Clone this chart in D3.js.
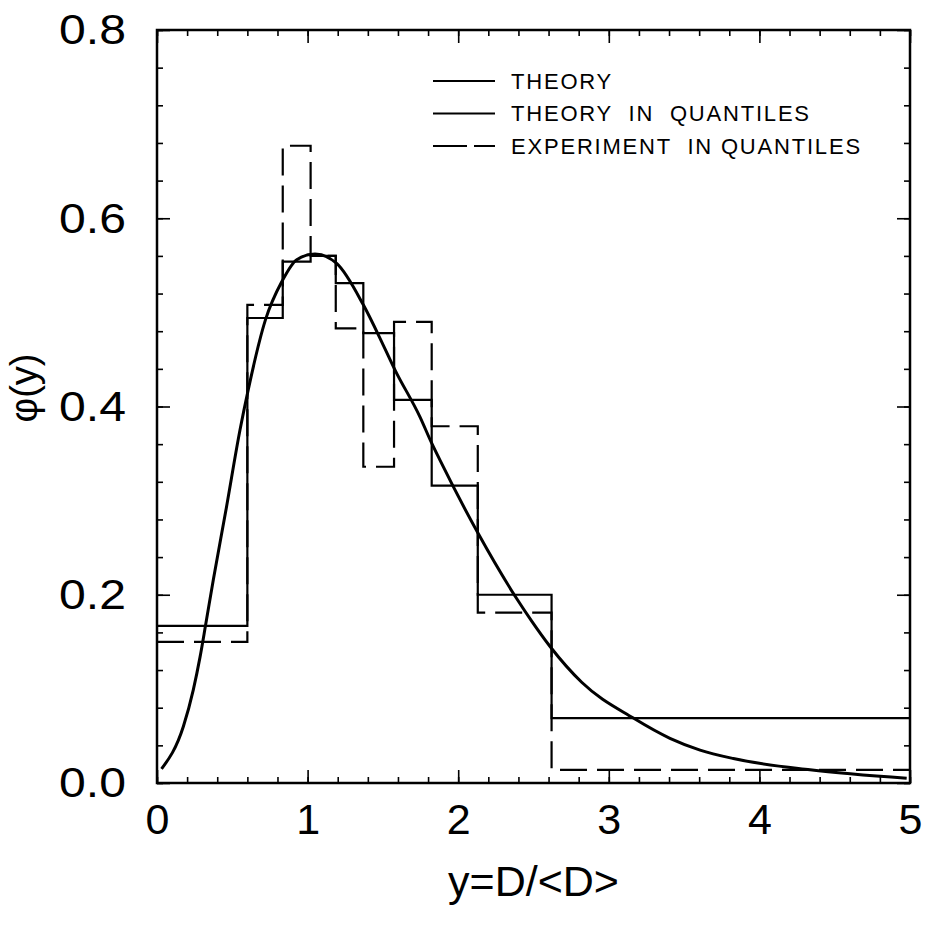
<!DOCTYPE html>
<html>
<head>
<meta charset="utf-8">
<script src="https://cdn.jsdelivr.net/npm/d3@7"></script>
<style>
  html, body { margin: 0; padding: 0; background: #fff; }
  svg { display: block; }
  text { font-family: "Liberation Sans", Arial, sans-serif; fill: #000; }
</style>
</head>
<body>
<div id="chart"></div>
<script>
'use strict';
// quantile bin edges along y=D/<D>
const binEdges = [0, 0.60, 0.835, 1.02, 1.187, 1.37, 1.574, 1.824, 2.13, 2.62, 5.0];
// bin heights
const theoryQuantiles = [0.167, 0.494, 0.554, 0.560, 0.531, 0.478, 0.407, 0.316, 0.200, 0.069];
const experimentQuantiles = [0.150, 0.508, 0.677, 0.560, 0.483, 0.336, 0.490, 0.379, 0.181, 0.014];

// theory curve, sampled by eye
const curveX = [0.03, 0.175, 0.241, 0.286, 0.323, 0.374, 0.46, 0.551, 0.606, 0.72, 0.83, 0.928, 1.049, 1.193, 1.37, 1.503, 1.58, 1.746, 1.824, 1.879, 2.133, 2.388, 2.488, 2.61, 2.82, 3.163, 3.406, 3.606, 3.827, 4.336, 4.978];
const curveY = [0.015, 0.060, 0.099, 0.134, 0.168, 0.216, 0.292, 0.375, 0.418, 0.492, 0.533, 0.556, 0.562, 0.552, 0.508, 0.465, 0.439, 0.389, 0.361, 0.343, 0.265, 0.196, 0.172, 0.145, 0.107, 0.069, 0.0475, 0.035, 0.026, 0.014, 0.005];

const xTickValues = [0, 1, 2, 3, 4, 5];
const yTickValues = [0, 0.2, 0.4, 0.6, 0.8];
const legendLabels = ["THEORY", "THEORY  IN  QUANTILES", "EXPERIMENT  IN QUANTILES"];

const width = 929, height = 925;
const margin = {top: 30, right: 19, bottom: 142, left: 157};
const pw = width - margin.left - margin.right;
const ph = height - margin.top - margin.bottom;

const svg = d3.select("#chart").append("svg")
    .attr("width", width)
    .attr("height", height);
const g = svg.append("g")
    .attr("transform", `translate(${margin.left},${margin.top})`);

const x = d3.scaleLinear().domain([0, 5]).range([0, pw]);
const y = d3.scaleLinear().domain([0, 0.8]).range([ph, 0]);

// ticks: inward, minor every 0.2 / 0.04, major on labelled values
const xMinor = d3.range(0, 5.001, 0.2).map(v => +v.toFixed(2));
const yMinor = d3.range(0, 0.8001, 0.04).map(v => +v.toFixed(2));

function ticks(axis, scale, vals, size, tf, labels, pad) {
    const a = g.append("g")
        .attr("transform", tf)
        .call(axis(scale).tickValues(vals).tickSize(-size).tickPadding(pad || 0)
            .tickFormat(labels ? (d => d3.format(labels)(d)) : ""));
    a.select(".domain").remove();
    a.selectAll("line").attr("stroke", "#000").attr("stroke-width", 1.6);
    return a;
}
ticks(d3.axisBottom, x, xMinor, 6, `translate(0,${ph})`);
ticks(d3.axisTop, x, xMinor, 6, "translate(0,0)");
ticks(d3.axisLeft, y, yMinor, 6, "translate(0,0)");
ticks(d3.axisRight, y, yMinor, 6, `translate(${pw},0)`);

const xAx = ticks(d3.axisBottom, x, xTickValues, 13, `translate(0,${ph})`, "d", 20);
ticks(d3.axisTop, x, xTickValues, 13, "translate(0,0)");
const yAx = ticks(d3.axisLeft, y, yTickValues, 13, "translate(0,0)", ".1f", 32);
ticks(d3.axisRight, y, yTickValues, 13, `translate(${pw},0)`);
xAx.selectAll("text").style("font-size", "43px").attr("font-family", null);
// the y labels are set a little wide in the original
yAx.selectAll("text")
    .style("font-size", "43px")
    .attr("font-family", null)
    .attr("x", 0)
    .attr("transform", "translate(-31,0) scale(1.12,1)");

// frame
g.append("rect")
    .attr("x", 0).attr("y", 0)
    .attr("width", pw).attr("height", ph)
    .attr("fill", "none")
    .attr("stroke", "#000")
    .attr("stroke-width", 2.5);

// step outlines of the quantile histograms
function stepPoints(h) {
    const pts = h.map((v, i) => [binEdges[i], v]);
    pts.push([binEdges[binEdges.length - 1], h[h.length - 1]]);
    return pts;
}
const step = d3.line()
    .x(d => x(d[0]))
    .y(d => y(d[1]))
    .curve(d3.curveStepAfter);

g.append("path")
    .attr("d", step(stepPoints(theoryQuantiles)))
    .attr("fill", "none")
    .attr("stroke", "#000")
    .attr("stroke-width", 2.2);

g.append("path")
    .attr("d", step(stepPoints(experimentQuantiles)))
    .attr("fill", "none")
    .attr("stroke", "#000")
    .attr("stroke-width", 2.2)
    .attr("stroke-dasharray", "27,10");

// theory curve
const curvePts = curveX.map((v, i) => [v, curveY[i]]);
g.append("path")
    .attr("d", d3.line()
        .x(d => x(d[0]))
        .y(d => y(d[1]))
        .curve(d3.curveMonotoneX)(curvePts))
    .attr("fill", "none")
    .attr("stroke", "#000")
    .attr("stroke-width", 3);

// legend
const legend = svg.append("g").attr("transform", "translate(433,81)");
const dashes = [null, null, "34,7"];
legendLabels.forEach((lab, i) => {
    const row = legend.append("g").attr("transform", `translate(0,${i * 32.5})`);
    row.append("line")
        .attr("x1", 0).attr("x2", 62)
        .attr("y1", 0).attr("y2", 0)
        .attr("stroke", "#000")
        .attr("stroke-width", 2)
        .attr("stroke-dasharray", dashes[i]);
    row.append("text")
        .attr("x", 78)
        .attr("y", 0)
        .attr("dy", "0.36em")
        .style("font-size", "22px")
        .style("letter-spacing", "1.8px")
        .style("white-space", "pre")
        .text(lab);
});

// axis titles
svg.append("text")
    .attr("x", margin.left + x(2.5))
    .attr("y", 896)
    .attr("text-anchor", "middle")
    .style("font-size", "43px")
    .text("y=D/<D>");

svg.append("text")
    .attr("transform", `translate(37,388) rotate(-90)`)
    .attr("text-anchor", "middle")
    .style("font-size", "38px")
    .text("φ(y)");
</script>
</body>
</html>
